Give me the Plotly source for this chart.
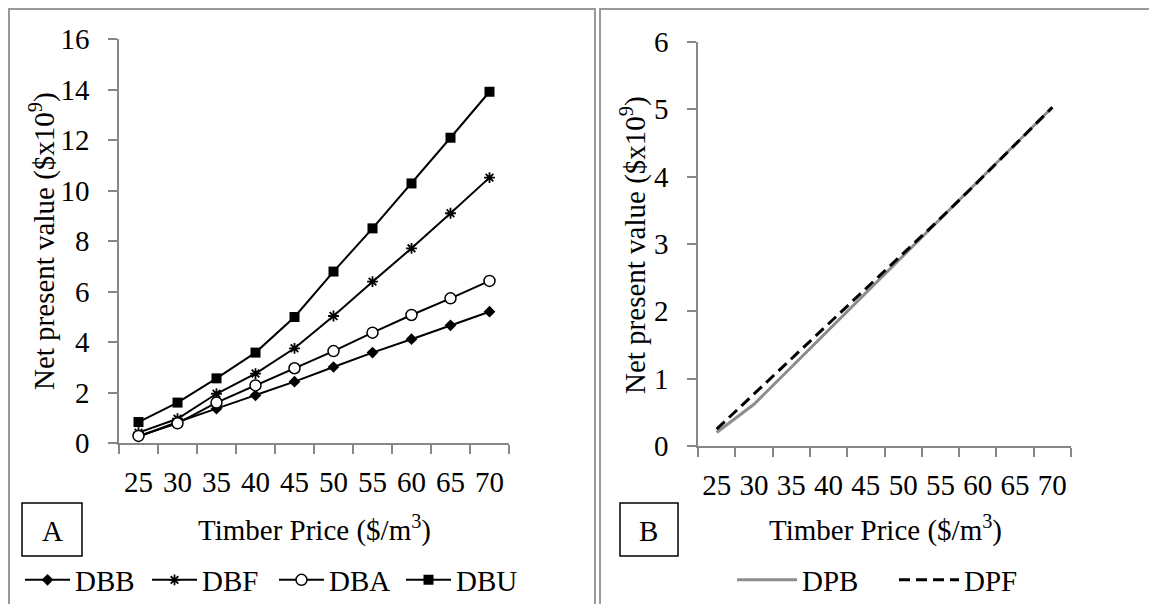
import plotly.graph_objects as go

W, H = 1157, 612
OFF = 8  # default page body margin around the plot div
FW, FH = W - 2 * OFF, H - 2 * OFF

prices = ["25", "30", "35", "40", "45", "50", "55", "60", "65", "70"]

dbb = [0.25, 0.83, 1.36, 1.89, 2.43, 3.01, 3.58, 4.11, 4.66, 5.20]
dbf = [0.41, 0.96, 1.95, 2.75, 3.75, 5.03, 6.39, 7.71, 9.10, 10.51]
dba = [0.28, 0.78, 1.60, 2.28, 2.96, 3.64, 4.37, 5.07, 5.73, 6.42]
dbu = [0.83, 1.60, 2.56, 3.58, 4.99, 6.79, 8.50, 10.28, 12.09, 13.91]

dpb = [0.20, 0.62, 1.17, 1.72, 2.27, 2.83, 3.38, 3.93, 4.48, 5.03]
dpf = [0.25, 0.77, 1.30, 1.82, 2.33, 2.85, 3.38, 3.92, 4.47, 5.03]

FONT = "Liberation Serif, Times New Roman, serif"
FS = 29
AXC = "#868686"


def px(x):
    return (x - OFF) / FW


def py(y):
    return 1 - (y - OFF) / FH


fig = go.Figure()

fig.add_trace(go.Scatter(x=prices, y=dbb, name="DBB", mode="lines+markers",
                         line=dict(color="black", width=2),
                         marker=dict(symbol="diamond", size=9, color="black"),
                         xaxis="x", yaxis="y", legend="legend"))
fig.add_trace(go.Scatter(x=prices, y=dbf, name="DBF", mode="lines+markers",
                         line=dict(color="black", width=2),
                         marker=dict(symbol="asterisk-open", size=9,
                                     line=dict(color="black", width=1.8)),
                         xaxis="x", yaxis="y", legend="legend"))
fig.add_trace(go.Scatter(x=prices, y=dba, name="DBA", mode="lines+markers",
                         line=dict(color="black", width=2),
                         marker=dict(symbol="circle", size=11, color="white",
                                     line=dict(color="black", width=1.5)),
                         xaxis="x", yaxis="y", legend="legend"))
fig.add_trace(go.Scatter(x=prices, y=dbu, name="DBU", mode="lines+markers",
                         line=dict(color="black", width=2),
                         marker=dict(symbol="square", size=10, color="black"),
                         xaxis="x", yaxis="y", legend="legend"))

fig.add_trace(go.Scatter(x=prices, y=dpb, name="DPB", mode="lines",
                         line=dict(color="#8c8c8c", width=3),
                         xaxis="x2", yaxis="y2", legend="legend2"))
fig.add_trace(go.Scatter(x=prices, y=dpf, name="DPF", mode="lines",
                         line=dict(color="black", width=3, dash="11px,6px"),
                         xaxis="x2", yaxis="y2", legend="legend2"))

common_x = dict(type="category", tickson="boundaries", ticks="outside", ticklen=9,
                tickcolor=AXC, tickwidth=1.5, showline=True, linecolor=AXC, linewidth=1.5,
                showgrid=False, zeroline=False, ticklabelstandoff=12, tickangle=0,
                tickfont=dict(family=FONT, size=FS, color="black"), fixedrange=True)
common_y = dict(ticks="outside", ticklen=9, tickcolor=AXC, tickwidth=1.5,
                showline=True, linecolor=AXC, linewidth=1.5, showgrid=False,
                zeroline=False, ticklabelstandoff=13,
                tickfont=dict(family=FONT, size=FS, color="black"), fixedrange=True)

fig.update_layout(
    width=FW, height=FH,
    margin=dict(l=0, r=0, t=0, b=0, autoexpand=False),
    paper_bgcolor="white", plot_bgcolor="white",
    font=dict(family=FONT, size=FS, color="black"),
    xaxis=dict(domain=[px(119), px(509)], anchor="y", range=[-0.5, 9.5], **common_x),
    yaxis=dict(domain=[py(443), py(39)], anchor="x", range=[0, 16], dtick=2, **common_y),
    xaxis2=dict(domain=[px(698), px(1071)], anchor="y2", range=[-0.5, 9.5], **common_x),
    yaxis2=dict(domain=[py(446), py(42)], anchor="x2", range=[0, 6], dtick=1, **common_y),
    legend=dict(orientation="h", x=px(20), xanchor="left", y=py(580), yanchor="middle",
                entrywidth=67, entrywidthmode="pixels", bgcolor="rgba(0,0,0,0)",
                font=dict(family=FONT, size=FS, color="black"), itemwidth=45,
                tracegroupgap=0),
    legend2=dict(orientation="h", x=px(732), xanchor="left", y=py(580), yanchor="middle",
                 entrywidth=87, entrywidthmode="pixels", bgcolor="rgba(0,0,0,0)",
                 font=dict(family=FONT, size=FS, color="black"), itemwidth=60,
                 tracegroupgap=0),
    showlegend=True,
)

ann = []
ytitle = "Net present value ($x10<sup>9</sup>)"
xtitle = "Timber Price ($/m<sup>3</sup>)"
ann.append(dict(text=ytitle, x=px(42), y=py(241), xref="paper", yref="paper",
                textangle=-90, showarrow=False, xanchor="center", yanchor="middle",
                font=dict(family=FONT, size=FS, color="black")))
ann.append(dict(text=ytitle, x=px(633), y=py(245), xref="paper", yref="paper",
                textangle=-90, showarrow=False, xanchor="center", yanchor="middle",
                font=dict(family=FONT, size=FS, color="black")))
ann.append(dict(text=xtitle, x=px(314), y=py(528), xref="paper", yref="paper",
                showarrow=False, xanchor="center", yanchor="middle",
                font=dict(family=FONT, size=FS, color="black")))
ann.append(dict(text=xtitle, x=px(885), y=py(528), xref="paper", yref="paper",
                showarrow=False, xanchor="center", yanchor="middle",
                font=dict(family=FONT, size=FS, color="black")))
ann.append(dict(text="A", x=px(52), y=py(531), xref="paper", yref="paper",
                showarrow=False, xanchor="center", yanchor="middle",
                font=dict(family=FONT, size=FS, color="black")))
ann.append(dict(text="B", x=px(649), y=py(531), xref="paper", yref="paper",
                showarrow=False, xanchor="center", yanchor="middle",
                font=dict(family=FONT, size=FS, color="black")))
fig.update_layout(annotations=ann)

shapes = [
    dict(type="rect", xref="paper", yref="paper", x0=px(22), x1=px(82), y0=py(556), y1=py(503),
         line=dict(color="black", width=1.5)),
    dict(type="rect", xref="paper", yref="paper", x0=px(620), x1=px(678), y0=py(556), y1=py(503),
         line=dict(color="black", width=1.5)),
    dict(type="path", xref="paper", yref="paper",
         path=f"M {px(9)},-0.05 L {px(9)},{py(9)} L {px(595)},{py(9)} L {px(595)},-0.05",
         line=dict(color="#9a9a9a", width=2)),
    dict(type="path", xref="paper", yref="paper",
         path=f"M {px(600)},-0.05 L {px(600)},{py(9)} L 1.05,{py(9)}",
         line=dict(color="#9a9a9a", width=2)),
]
fig.update_layout(shapes=shapes)

fig.write_html("out.html")
